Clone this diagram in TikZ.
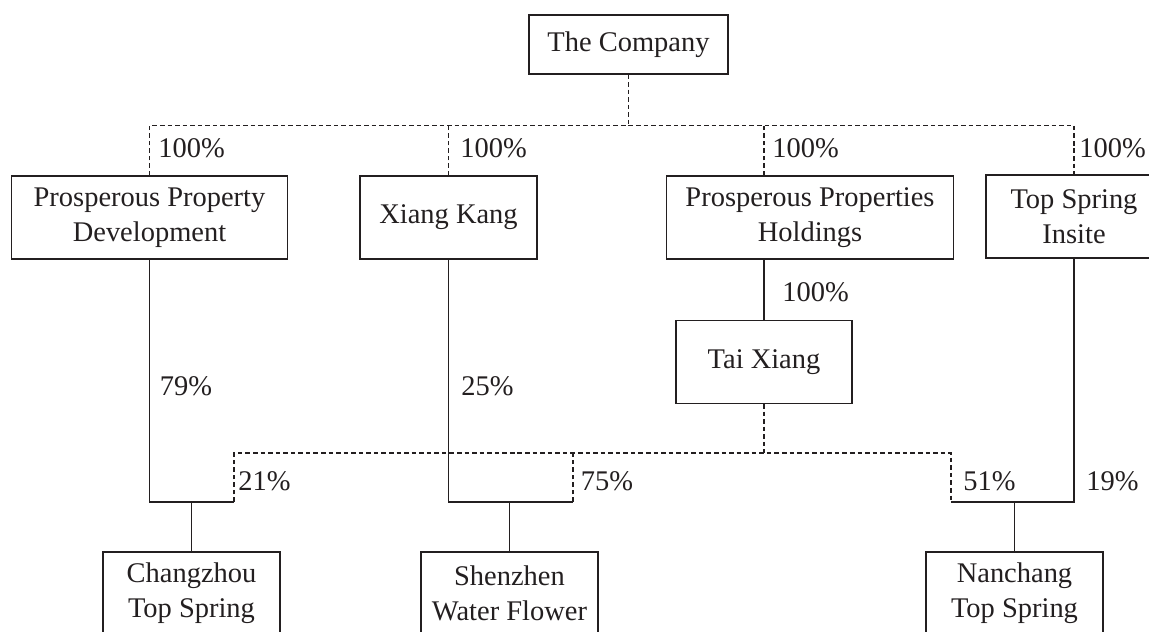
\documentclass[tikz,border=0pt]{standalone}
\usepackage{fontspec}
\setmainfont{Liberation Serif}
\usepackage{tikz}
\usetikzlibrary{positioning}

\definecolor{ink}{HTML}{231F20}

\begin{document}
\begin{tikzpicture}[x=0.2mm,y=-0.2mm,
  every node/.style={text=ink,font=\fontsize{16.2}{19.9}\selectfont},
  firm/.style={draw=ink,line width=0.6pt,align=center,inner sep=0pt,minimum height=16.6mm},
  own/.style={draw=ink,line width=1pt},
  link/.style={draw=ink,line width=0.6pt},
  ctl/.style={draw=ink,line width=0.6pt,dash pattern=on 2.6pt off 1.7pt},
  pct/.style={anchor=west,inner sep=0pt}]
\clip (0,0) rectangle (1149,631);
% companies
\node[firm,minimum width=39.8mm,minimum height=11.8mm] (co) at (628.5,44.5) {The Company};
\node[firm,minimum width=55.2mm] (ppd) at (149.5,217.5) {Prosperous Property\\Development};
\node[firm,minimum width=35.4mm] (xk) at (448.5,217.5) {Xiang Kang};
\node[firm,minimum width=57.3mm] (pph) at (810,217.5) {Prosperous Properties\\Holdings};
\node[firm,minimum width=35.2mm] (tsi) at (1074,216.5) {Top Spring\\Insite};
\node[firm,minimum width=35.2mm] (tx) at (764,362) {Tai Xiang};
\node[firm,minimum width=35.4mm] (cz) at (191.5,593.5) {Changzhou\\Top Spring};
\node[firm,minimum width=35.4mm] (sz) at (509.5,593.5) {Shenzhen\\Water Flower};
\node[firm,minimum width=35.4mm] (nc) at (1014.5,593.5) {Nanchang\\Top Spring};
% joints
\coordinate (topbus) at (0,125.5);
\coordinate (lowbus) at (0,453);
\coordinate (czr) at (234,502);
\coordinate (szr) at (573,502);
\coordinate (ncl) at (951,502);
% dashed holdings of the company
\draw[ctl] (co.south) -- (co.south |- topbus);
\draw[ctl] (ppd.north) -- (ppd.north |- topbus) -- (tsi.north |- topbus) -- (tsi.north);
\draw[ctl] (xk.north) -- (xk.north |- topbus);
\draw[ctl] (tx.north |- pph.north) -- (tx.north |- topbus);
\draw[own] (tx.north |- pph.south) -- (tx.north);
% project companies
\draw[own] (ppd.south) |- (czr);
\draw[own] (xk.south) |- (szr);
\draw[own] (tsi.south) |- (ncl);
\draw[ctl] (czr) -- (czr |- lowbus) -- (ncl |- lowbus) -- (ncl);
\draw[ctl] (szr) -- (szr |- lowbus);
\draw[ctl] (tx.south) -- (tx.south |- lowbus);
\draw[link] (cz.north) -- (cz.north |- czr);
\draw[link] (sz.north) -- (sz.north |- szr);
\draw[link] (nc.north) -- (nc.north |- ncl);
% percentages
\node[pct] (s1) at (158,148) {100\%};
\node[pct] (s2) at (460,148) {100\%};
\node[pct] (s3) at (772,148) {100\%};
\node[pct] (s4) at (1079,148) {100\%};
\node[pct] (s5) at (782,292) {100\%};
\node[pct] (s6) at (159.5,386) {79\%};
\node[pct] (s7) at (461,386) {25\%};
\node[pct] (s8) at (238,481) {21\%};
\node[pct] (s9) at (580.5,481) {75\%};
\node[pct] (s10) at (963,481) {51\%};
\node[pct] (s11) at (1086,481) {19\%};
\end{tikzpicture}
\end{document}
